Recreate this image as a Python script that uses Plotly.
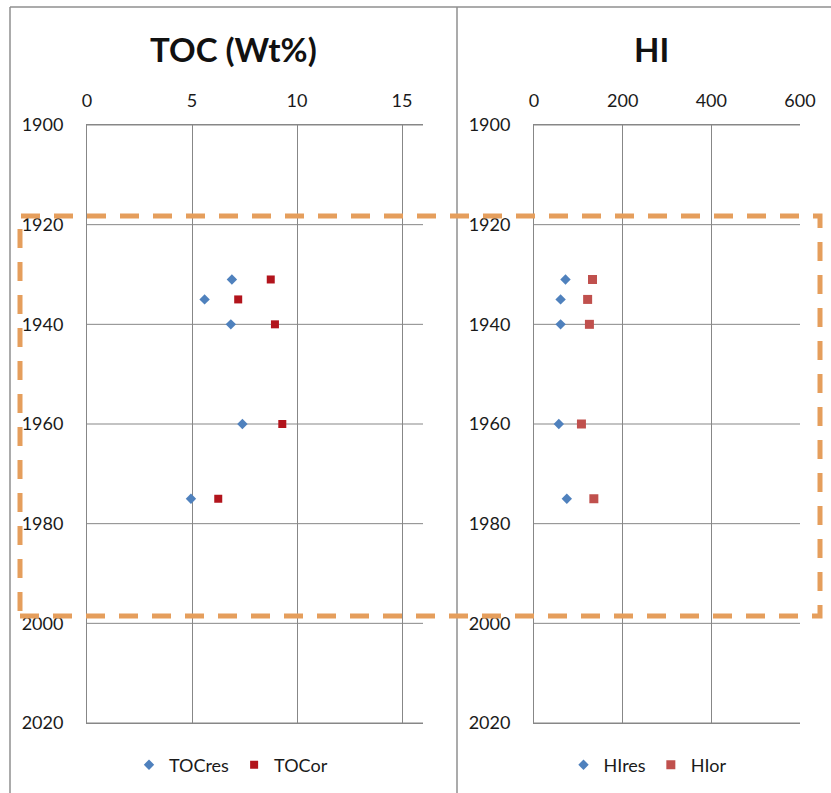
import plotly.graph_objects as go

W, H = 831, 793

# Sample years (depth proxy) shared by both panels
years = [1931, 1935, 1940, 1960, 1975]

# Total organic carbon (Wt%)
toc_res = [6.9, 5.6, 6.85, 7.4, 4.95]
toc_or = [8.75, 7.2, 8.95, 9.3, 6.25]

# Hydrogen index
hi_res = [71, 60, 60, 56, 74]
hi_or = [132, 121, 125, 107, 135]

toc_ticks = [0, 5, 10, 15]
hi_ticks = [0, 200, 400, 600]
year_ticks = [1900, 1920, 1940, 1960, 1980, 2000, 2020]

BLUE = "#4F81BD"
DARK_RED = "#B2141C"
RED = "#C0504D"
GRID = "#878787"
FONT = "Lato, Carlito, Calibri, sans-serif"


def px(x):
    return x / W


def py(y):
    return 1 - y / H


fig = go.Figure()

fig.add_trace(go.Scatter(x=toc_res, y=years, mode="markers", name="TOCres",
                         marker=dict(symbol="diamond", size=8, color=BLUE),
                         xaxis="x", yaxis="y", legend="legend"))
fig.add_trace(go.Scatter(x=toc_or, y=years, mode="markers", name="TOCor",
                         marker=dict(symbol="square", size=8, color=DARK_RED),
                         xaxis="x", yaxis="y", legend="legend"))
fig.add_trace(go.Scatter(x=hi_res, y=years, mode="markers", name="HIres",
                         marker=dict(symbol="diamond", size=8, color=BLUE),
                         xaxis="x2", yaxis="y2", legend="legend2"))
fig.add_trace(go.Scatter(x=hi_or, y=years, mode="markers", name="HIor",
                         marker=dict(symbol="square", size=9, color=RED),
                         xaxis="x2", yaxis="y2", legend="legend2"))

tickfont = dict(family=FONT, size=18, color="#1a1a1a")

xcommon = dict(side="top", showgrid=True, gridcolor=GRID, gridwidth=1,
               zeroline=False, showline=True, linecolor=GRID, linewidth=1,
               mirror=True, ticks="outside", ticklen=10, automargin=False,
               tickcolor="rgba(0,0,0,0)", tickfont=tickfont, fixedrange=True)
ycommon = dict(range=[2020, 1900], tickvals=year_ticks, showgrid=False,
               zeroline=False, showline=True, linecolor=GRID, linewidth=1,
               ticks="outside", ticklen=19, tickcolor="rgba(0,0,0,0)",
               tickfont=tickfont, fixedrange=True, automargin=False,
               domain=[py(723), py(125)])

fig.update_layout(
    width=W, height=H,
    margin=dict(l=0, r=0, t=0, b=0, autoexpand=False),
    paper_bgcolor="white", plot_bgcolor="white",
    xaxis=dict(xcommon, domain=[px(87), px(423)], range=[0, 16],
               tickvals=toc_ticks, anchor="y"),
    yaxis=dict(ycommon, anchor="x"),
    xaxis2=dict(xcommon, domain=[px(534), px(800)], range=[0, 600],
                tickvals=hi_ticks, anchor="y2"),
    yaxis2=dict(ycommon, anchor="x2"),
    legend=dict(orientation="h", x=px(231), y=py(765), xanchor="center",
                yanchor="middle", font=dict(family=FONT, size=18, color="#1a1a1a"),
                itemwidth=30, bgcolor="rgba(0,0,0,0)"),
    legend2=dict(orientation="h", x=px(648), y=py(765), xanchor="center",
                 yanchor="middle", font=dict(family=FONT, size=18, color="#1a1a1a"),
                 itemwidth=30, bgcolor="rgba(0,0,0,0)"),
    showlegend=True,
)

# Horizontal gridlines at each year tick across both panels
for ax_x, ax_y, xmax in (("x", "y", 16), ("x2", "y2", 600)):
    for yv in year_ticks:
        fig.add_shape(type="line", xref=ax_x, yref=ax_y, x0=0, x1=xmax,
                      y0=yv, y1=yv, line=dict(color=GRID, width=1),
                      layer="below")

# Panel titles
fig.add_annotation(text="<b>TOC (Wt%)</b>", x=px(233), y=py(49),
                   xref="paper", yref="paper", showarrow=False,
                   xanchor="center", yanchor="middle",
                   font=dict(family=FONT, size=33, color="#111111"))
fig.add_annotation(text="<b>HI</b>", x=px(651), y=py(49),
                   xref="paper", yref="paper", showarrow=False,
                   xanchor="center", yanchor="middle",
                   font=dict(family=FONT, size=33, color="#111111"))

# Chart frames
frame = dict(color="#8f8f8f", width=1.5)
fig.add_shape(type="line", xref="paper", yref="paper",
              x0=px(10), x1=1, y0=py(7), y1=py(7), line=frame)
fig.add_shape(type="line", xref="paper", yref="paper",
              x0=px(10), x1=px(10), y0=py(7), y1=0, line=frame)
fig.add_shape(type="line", xref="paper", yref="paper",
              x0=px(457), x1=px(457), y0=py(7), y1=0, line=frame)

# Highlighted interval (dashed box spanning both panels)
fig.add_shape(type="rect", xref="paper", yref="paper",
              x0=px(20), x1=px(820), y0=py(616), y1=py(216),
              line=dict(color="rgb(229,158,92)", width=5, dash="19px,14px"),
              fillcolor="rgba(0,0,0,0)", layer="above")

fig.write_html(
    "out.html",
    post_script="document.body.style.margin='0';"
                "document.body.style.overflow='hidden';",
)
